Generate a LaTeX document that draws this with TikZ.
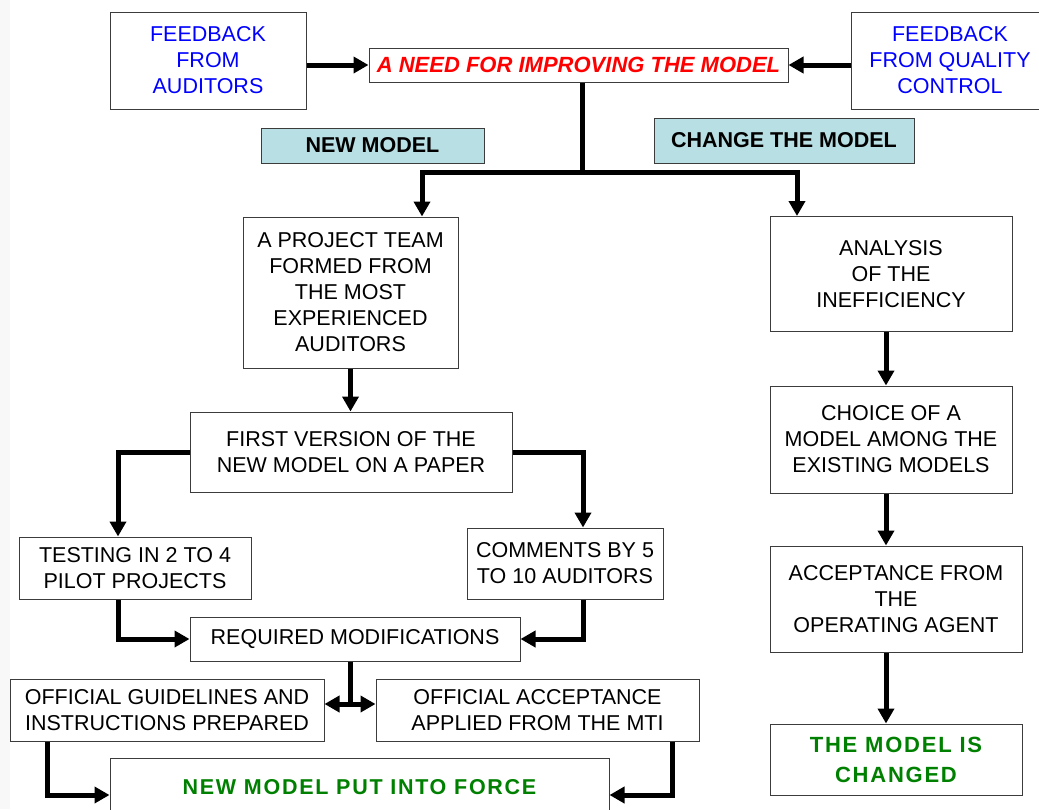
\documentclass[tikz,border=0pt]{standalone}
\usepackage{fontspec}
\setmainfont{Liberation Sans}
\newfontfamily\widefont{Liberation Sans}[LetterSpace=8]
\usetikzlibrary{arrows.meta}
\definecolor{bgcol}{RGB}{248,248,248}
\definecolor{boxline}{RGB}{60,60,60}
\definecolor{tagblue}{RGB}{184,223,227}
\definecolor{fbblue}{RGB}{0,0,255}
\definecolor{needred}{RGB}{255,0,0}
\definecolor{donegreen}{RGB}{0,128,0}
\newcommand\fs{\fontsize{21.5}{26}\selectfont}

\begin{document}
\begin{tikzpicture}[
  x=1pt,y=-1pt,
  box/.style={draw=boxline,line width=1pt,fill=white,align=center,inner sep=0pt,font=\fs},
  tag/.style={box,fill=tagblue,font=\fs\bfseries},
  fb/.style={box,text=fbblue},
  done/.style={box,text=donegreen,font=\fs\widefont\bfseries},
  bar/.style={line width=5pt},
  link/.style={bar,-{Triangle[width=16pt,length=15pt]}}
]
\useasboundingbox (0,0) rectangle (1039,809);
\fill[white] (0,0) rectangle (1039,809);
\fill[bgcol] (0,0) rectangle (10,809);
% top row
\node[fb,minimum width=196,minimum height=97] (fbA) at (208,60.5) {FEEDBACK\\FROM\\AUDITORS};
\node[box,minimum width=419,minimum height=34,text=needred,font=\fontsize{22}{26}\selectfont\bfseries\itshape] (need) at (578.5,65) {A NEED FOR IMPROVING THE MODEL};
\node[fb,minimum width=198,minimum height=97] (fbQ) at (950,60.5) {FEEDBACK\\FROM QUALITY\\CONTROL};
\node[tag,minimum width=223,minimum height=35] (tagNew) at (372.5,145.5) {NEW MODEL};
\node[tag,minimum width=260,minimum height=45] (tagChg) at (784,140.5) {CHANGE THE MODEL};
% new model branch
\node[box,minimum width=215,minimum height=151] (proj) at (350.5,292.5) {A PROJECT TEAM\\FORMED FROM\\THE MOST\\EXPERIENCED\\AUDITORS};
\node[box,minimum width=322,minimum height=80] (first) at (351,452) {FIRST VERSION OF THE\\NEW MODEL ON A PAPER};
\node[box,minimum width=232,minimum height=62] (test) at (135,568) {TESTING IN 2 TO 4\\PILOT PROJECTS};
\node[box,minimum width=196,minimum height=71] (comm) at (565,563.5) {COMMENTS BY 5\\TO 10 AUDITORS};
\node[box,minimum width=330,minimum height=44] (req) at (355,639) {REQUIRED MODIFICATIONS};
\node[box,minimum width=314,minimum height=62] (guide) at (167,710) {OFFICIAL GUIDELINES AND\\INSTRUCTIONS PREPARED};
\node[box,minimum width=323,minimum height=62] (accept) at (537.5,710) {OFFICIAL ACCEPTANCE\\APPLIED FROM THE MTI};
\node[done,minimum width=499,minimum height=58] (final) at (359.5,787) {NEW MODEL PUT INTO FORCE};
% change branch
\node[box,minimum width=242,minimum height=115] (ana) at (891,274) {ANALYSIS\\OF THE\\INEFFICIENCY};
\node[box,minimum width=242,minimum height=107] (choice) at (891,439.5) {CHOICE OF A\\MODEL AMONG THE\\EXISTING MODELS};
\node[box,minimum width=252,minimum height=106] (opag) at (896,599) {ACCEPTANCE FROM\\THE\\OPERATING AGENT};
\node[done,minimum width=252,minimum height=71,font=\fontsize{22}{30}\selectfont\widefont\bfseries] (changed) at (896,759.5) {THE MODEL IS\\CHANGED};
% junctions
\coordinate (split) at (582,172);
\coordinate (lft) at (422,172);
\coordinate (rgt) at (797,172);
\coordinate (fork) at (350,704);
\coordinate (rcol) at (886,0);
% connectors
\draw[link] (fbA.east |- need) -- (need.west);
\draw[link] (fbQ.west |- need) -- (need.east);
\draw[bar] (need.south -| split) -- (split);
\draw[link] (split) -- (lft) -- (lft |- proj.north);
\draw[link] (split) -- (rgt) -- (rgt |- ana.north);
\draw[link] (proj.south) -- (proj.south |- first.north);
\draw[link] (first.west) -| ([xshift=-17pt]test.north);
\draw[link] (first.east) -| ([xshift=18pt]comm.north);
\draw[link] ([xshift=-17pt]test.south) |- (req.west);
\draw[link] ([xshift=18pt]comm.south) |- (req.east);
\draw[bar] (req.south -| fork) -- (fork);
\draw[link] (fork) -- (fork -| guide.east);
\draw[link] (fork) -- (fork -| accept.west);
\draw[link] ([xshift=-120pt]guide.south) |- ([yshift=-8pt]final.west);
\draw[link] ([xshift=134.5pt]accept.south) |- ([yshift=-8pt]final.east);
\draw[link] (ana.south -| rcol) -- (choice.north -| rcol);
\draw[link] (choice.south -| rcol) -- (opag.north -| rcol);
\draw[link] (opag.south -| rcol) -- (changed.north -| rcol);
\end{tikzpicture}
\end{document}
